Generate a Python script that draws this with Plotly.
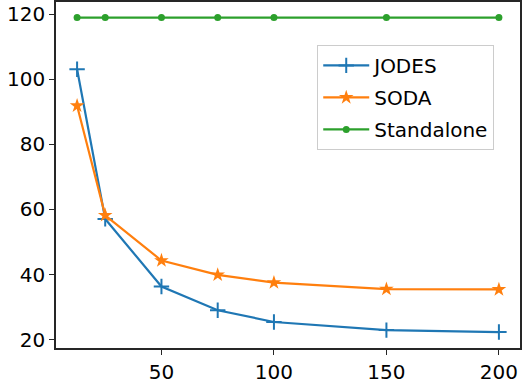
import plotly.graph_objects as go

# data
x_vals = [12.5, 25, 50, 75, 100, 150, 200]
jodes = [103.1, 57.1, 36.3, 29.0, 25.4, 22.9, 22.3]
soda = [91.9, 58.2, 44.3, 39.9, 37.5, 35.5, 35.4]
standalone = [119, 119, 119, 119, 119, 119, 119]

x_ticks = [50, 100, 150, 200]
y_ticks = [20, 40, 60, 80, 100, 120]

FONT = dict(family='DejaVu Sans', size=20, color='black')
AXIS_COLOR = '#262626'

fig = go.Figure()

fig.add_trace(go.Scatter(
    x=x_vals, y=jodes, name='JODES', mode='lines+markers', legendgroup='a',
    line=dict(color='#1f77b4', width=2.2),
    marker=dict(symbol='cross-thin', size=11, line=dict(color='#1f77b4', width=2)),
))
fig.add_trace(go.Scatter(
    x=x_vals, y=soda, name='SODA', mode='lines+markers', legendgroup='b',
    line=dict(color='#ff7f0e', width=2.2),
    marker=dict(symbol='star', size=11, color='#ff7f0e'),
))
fig.add_trace(go.Scatter(
    x=x_vals, y=standalone, name='Standalone', mode='lines+markers', legendgroup='c',
    line=dict(color='#2ca02c', width=2.2),
    marker=dict(symbol='circle', size=7, color='#2ca02c'),
))

axis_common = dict(
    showgrid=False, zeroline=False, automargin=False,
    showline=True, linecolor=AXIS_COLOR, linewidth=1.5, mirror=True,
    ticks='outside', ticklen=5, tickwidth=1.3, tickcolor=AXIS_COLOR,
    tickfont=FONT,
)

fig.update_layout(
    width=522, height=384,
    margin=dict(l=56, r=2, t=2, b=36),
    paper_bgcolor='white', plot_bgcolor='white',
    font=FONT,
    showlegend=True,
    legend=dict(
        x=0.563, y=0.876, xanchor='left', yanchor='top',
        bgcolor='rgba(255,255,255,0.8)', bordercolor='#cccccc', borderwidth=1,
        font=FONT, tracegroupgap=3, itemwidth=46,
    ),
    xaxis=dict(range=[3.125, 209.375], tickvals=x_ticks, **axis_common),
    yaxis=dict(range=[17.4, 123.8], tickvals=y_ticks, **axis_common),
)

# page body has a default 8px margin; drop it so the chart sits at the corner
fig.write_html("out.html", config={'displayModeBar': False},
               post_script="document.body.style.margin='0';")
